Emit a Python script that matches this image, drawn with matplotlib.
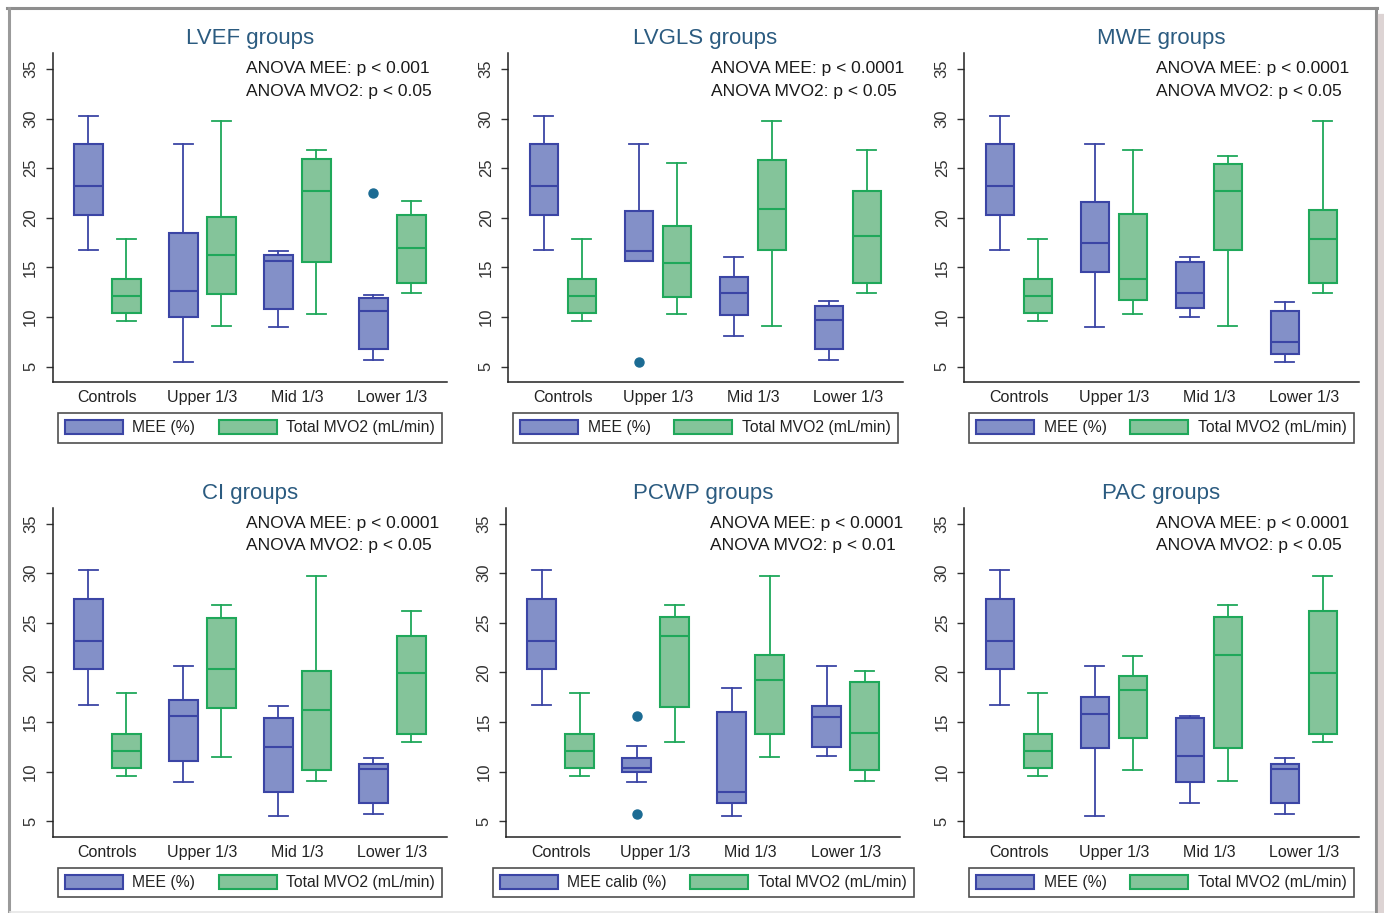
import matplotlib.pyplot as plt
from matplotlib.lines import Line2D
from matplotlib.patches import Patch
from matplotlib.transforms import blended_transform_factory

plt.rcParams['font.family'] = ['Liberation Sans', 'DejaVu Sans']

groups = ["Controls", "Upper 1/3", "Mid 1/3", "Lower 1/3"]

titles = ["LVEF groups", "LVGLS groups", "MWE groups",
          "CI groups", "PCWP groups", "PAC groups"]
anova_mee = ["p < 0.001", "p < 0.0001", "p < 0.0001",
             "p < 0.0001", "p < 0.0001", "p < 0.0001"]
anova_mvo2 = ["p < 0.05", "p < 0.05", "p < 0.05",
              "p < 0.05", "p < 0.01", "p < 0.05"]
mee_names = ["MEE (%)", "MEE (%)", "MEE (%)",
             "MEE (%)", "MEE calib (%)", "MEE (%)"]

# box summaries: (whisker low, Q1, median, Q3, whisker high)
controls_mee = (16.7, 20.3, 23.2, 27.4, 30.3)
controls_mvo2 = (9.6, 10.4, 12.1, 13.8, 17.9)

lvef_mee = [controls_mee, (5.5, 10.0, 12.6, 18.5, 27.4),
            (9.0, 10.8, 15.6, 16.2, 16.6), (5.7, 6.8, 10.6, 11.9, 12.2)]
lvef_mvo2 = [controls_mvo2, (9.1, 12.3, 16.2, 20.1, 29.7),
             (10.3, 15.5, 22.7, 25.9, 26.8), (12.4, 13.4, 17.0, 20.3, 21.7)]
lvef_out = [[], [], [], [22.5]]

lvgls_mee = [controls_mee, (15.6, 15.6, 16.6, 20.65, 27.4),
             (8.1, 10.2, 12.4, 14.0, 16.0), (5.7, 6.8, 9.7, 11.1, 11.6)]
lvgls_mvo2 = [controls_mvo2, (10.3, 12.0, 15.4, 19.2, 25.5),
              (9.1, 16.8, 20.9, 25.8, 29.7), (12.4, 13.4, 18.2, 22.7, 26.8)]
lvgls_out = [[], [5.5], [], []]

mwe_mee = [controls_mee, (9.0, 14.5, 17.5, 21.6, 27.4),
           (10.0, 10.9, 12.4, 15.5, 16.0), (5.5, 6.3, 7.5, 10.6, 11.55)]
mwe_mvo2 = [controls_mvo2, (10.3, 11.75, 13.8, 20.4, 26.8),
            (9.1, 16.8, 22.7, 25.4, 26.2), (12.4, 13.4, 17.9, 20.8, 29.7)]
mwe_out = [[], [], [], []]

ci_mee = [controls_mee, (9.0, 11.05, 15.6, 17.2, 20.6),
          (5.5, 8.0, 12.5, 15.4, 16.6), (5.7, 6.8, 10.3, 10.8, 11.4)]
ci_mvo2 = [controls_mvo2, (11.5, 16.4, 20.3, 25.45, 26.8),
           (9.1, 10.2, 16.2, 20.1, 29.7), (13.0, 13.8, 19.9, 23.7, 26.2)]
ci_out = [[], [], [], []]

pcwp_mee = [controls_mee, (9.0, 9.95, 10.4, 11.4, 12.6),
            (5.5, 6.8, 8.0, 16.0, 18.45), (11.55, 12.5, 15.5, 16.6, 20.6)]
pcwp_mvo2 = [controls_mvo2, (13.0, 16.5, 23.7, 25.55, 26.8),
             (11.5, 13.8, 19.2, 21.75, 29.7), (9.1, 10.2, 13.85, 19.0, 20.1)]
pcwp_out = [[], [15.6, 5.7], [], []]

pac_mee = [controls_mee, (5.5, 12.35, 15.8, 17.5, 20.6),
           (6.8, 9.0, 11.55, 15.4, 15.6), (5.7, 6.8, 10.3, 10.8, 11.4)]
pac_mvo2 = [controls_mvo2, (10.2, 13.4, 18.2, 19.6, 21.7),
            (9.1, 12.35, 21.75, 25.55, 26.8), (13.0, 13.8, 19.9, 26.2, 29.7)]
pac_out = [[], [], [], []]

mee_sets = [lvef_mee, lvgls_mee, mwe_mee, ci_mee, pcwp_mee, pac_mee]
mvo2_sets = [lvef_mvo2, lvgls_mvo2, mwe_mvo2, ci_mvo2, pcwp_mvo2, pac_mvo2]
outlier_sets = [lvef_out, lvgls_out, mwe_out, ci_out, pcwp_out, pac_out]

MEE_FACE, MEE_EDGE = "#8390c8", "#3b45a5"
MVO2_FACE, MVO2_EDGE = "#84c49a", "#1fa85a"
DOT = "#1b6b93"
TITLE_COLOR = "#2b5b80"


def make_stats(summary, fliers):
    return [dict(whislo=s[0], q1=s[1], med=s[2], q3=s[3], whishi=s[4],
                 fliers=list(f))
            for s, f in zip(summary, fliers)]


def draw_boxes(ax, summary, fliers, positions, face, edge):
    ax.bxp(make_stats(summary, fliers), positions=positions, widths=0.30,
           capwidths=0.2, patch_artist=True, manage_ticks=False,
           boxprops=dict(facecolor=face, edgecolor=edge, linewidth=1.5),
           medianprops=dict(color=edge, linewidth=1.5),
           whiskerprops=dict(color=edge, linewidth=1.3),
           capprops=dict(color=edge, linewidth=1.3),
           flierprops=dict(marker="o", markersize=6.5, markerfacecolor=DOT,
                           markeredgecolor=DOT))


W, H = 1384, 913
fig = plt.figure(figsize=(W / 100, H / 100), dpi=100)

# axes boxes in pixels: left per row/column, top per row, shared size
lefts = [[52.7, 508.3, 964.3], [52.7, 506.0, 964.3]]
tops = [53.0, 507.7]
aw, ah = 394.3, 329.0
text_x = [193, 203, 192, 193, 204, 192]

centers = [0, 1, 2, 3]
for i in range(6):
    r, c = divmod(i, 3)
    l, t = lefts[r][c], tops[r]
    ax = fig.add_axes([l / W, 1 - (t + ah) / H, aw / W, ah / H])

    draw_boxes(ax, mee_sets[i], outlier_sets[i],
               [x - 0.2 for x in centers], MEE_FACE, MEE_EDGE)
    draw_boxes(ax, mvo2_sets[i], [[], [], [], []],
               [x + 0.2 for x in centers], MVO2_FACE, MVO2_EDGE)

    ax.set_xlim(-0.575, 3.575)
    ax.set_ylim(3.45, 36.6)
    ax.set_xticks(centers)
    ax.set_xticklabels(groups, fontsize=11.5, color="#222222")
    ax.set_yticks([5, 10, 15, 20, 25, 30, 35])
    ax.tick_params(axis="x", length=0, pad=6)
    ax.tick_params(axis="y", length=5, width=1, pad=5.5, labelsize=12,
                   labelcolor="#333333", color="#333333")
    for lab in ax.get_yticklabels():
        lab.set_rotation(90)
        lab.set_va("center")
    for side in ("top", "right"):
        ax.spines[side].set_visible(False)
    for side in ("left", "bottom"):
        ax.spines[side].set_color("#222222")
        ax.spines[side].set_linewidth(1.1)

    ax.text(0.5, 1 + 9 / ah, titles[i], transform=ax.transAxes,
            ha="center", va="baseline", fontsize=16, color=TITLE_COLOR)

    # ANOVA results in the upper right corner
    trans = blended_transform_factory(ax.transAxes, ax.transData)
    tx = text_x[i] / aw
    ax.text(tx, 34.6, "ANOVA MEE: " + anova_mee[i], transform=trans,
            ha="left", va="baseline", fontsize=12.5, color="#1a1a1a")
    ax.text(tx, 32.3, "ANOVA MVO2: " + anova_mvo2[i], transform=trans,
            ha="left", va="baseline", fontsize=12.5, color="#1a1a1a")

    handles = [Patch(facecolor=MEE_FACE, edgecolor=MEE_EDGE, linewidth=1.5),
               Patch(facecolor=MVO2_FACE, edgecolor=MVO2_EDGE, linewidth=1.5)]
    leg = ax.legend(handles, [mee_names[i], "Total MVO2 (mL/min)"],
                    loc="upper center", bbox_to_anchor=(0.5, -31 / ah),
                    ncol=2, fontsize=11.3, frameon=True, fancybox=False,
                    edgecolor="#222222", handlelength=3.7, handleheight=1.0,
                    handletextpad=0.6, columnspacing=1.5, borderpad=0.45,
                    borderaxespad=0)
    leg.get_frame().set_linewidth(1.2)
    for txt in leg.get_texts():
        txt.set_color("#222222")


# outer frame of the figure
def fig_line(xs, ys, color, lw):
    fig.add_artist(Line2D([x / W for x in xs], [1 - y / H for y in ys],
                          color=color, linewidth=lw,
                          transform=fig.transFigure))


fig_line([7, 1377], [8.5, 8.5], "#8e8e8e", 2.2)
fig_line([8.5, 8.5], [8, 913], "#9a9a9a", 2.2)
fig_line([1375.5, 1375.5], [8, 913], "#8e8e8e", 2.2)
fig_line([1381, 1381], [17, 913], "#ddd4d4", 4.5)
fig_line([10, 1374], [911.5, 911.5], "#e6e6e6", 1.2)

fig.savefig("out.png", dpi=100)
